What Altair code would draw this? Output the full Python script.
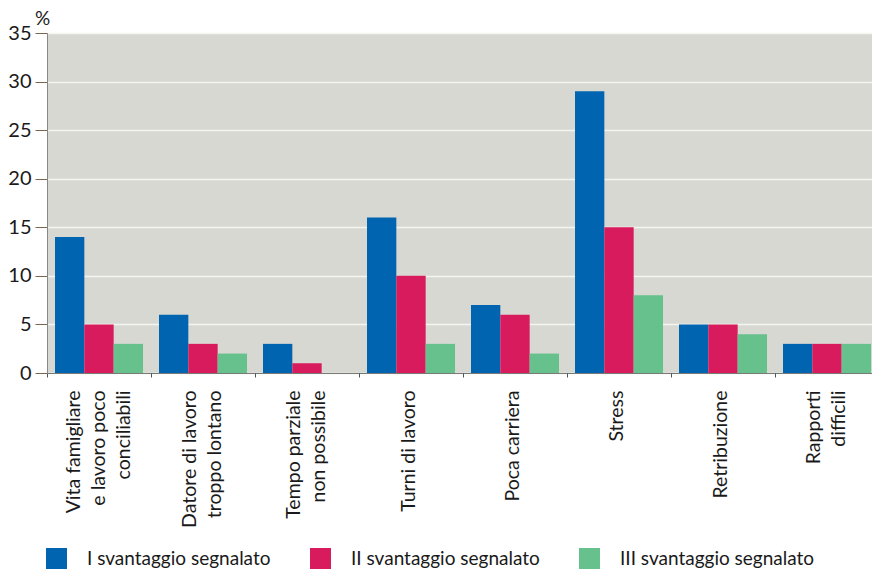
import altair as alt
import pandas as pd

# Reasons for leaving (percent of mentions), grouped by rank of the disadvantage
categories = [
    "Vita famigliare\ne lavoro poco\nconciliabili",
    "Datore di lavoro\ntroppo lontano",
    "Tempo parziale\nnon possibile",
    "Turni di lavoro",
    "Poca carriera",
    "Stress",
    "Retribuzione",
    "Rapporti\ndifficili",
]
series = ["I svantaggio segnalato", "II svantaggio segnalato", "III svantaggio segnalato"]
first = [14, 6, 3, 16, 7, 29, 5, 3]
second = [5, 3, 1, 10, 6, 15, 5, 3]
third = [3, 2, 0, 3, 2, 8, 4, 3]
colors = ["#0064B0", "#D81B5C", "#66C18C"]
y_ticks = [0, 5, 10, 15, 20, 25, 30, 35]

rows = []
for s, vals in zip(series, [first, second, third]):
    for c, v in zip(categories, vals):
        rows.append({"motivo": c, "serie": s, "valore": v})
df = pd.DataFrame(rows)

FONT = "Lato"
TEXT = "#1a1a1a"
LINE_H = 25

# shift multi-line labels so the block of lines is centred on its group
n_lines = "length(split(datum.label, '\\n'))"
label_offset = {
    "condition": [
        {"test": f"{n_lines} == 3", "value": -26},
        {"test": f"{n_lines} == 2", "value": -14},
    ],
    "value": -3,
}

chart = (
    alt.Chart(df)
    .mark_bar()
    .encode(
        x=alt.X(
            "motivo:N",
            sort=categories,
            scale=alt.Scale(paddingInner=0, paddingOuter=0),
            axis=alt.Axis(
                title=None,
                labelAngle=-90,
                labelAlign="right",
                labelBaseline="middle",
                labelExpr="split(datum.label, '\\n')",
                labelLineHeight=LINE_H,
                labelOffset=label_offset,
                labelPadding=13,
                labelFontSize=19.5,
                labelColor=TEXT,
                labelLimit=0,
                tickBand="extent",
                tickSize=4,
                tickColor="#555555",
                domainColor="#444444",
                domainOpacity=0.7,
            ),
        ),
        xOffset=alt.XOffset(
            "serie:N",
            sort=series,
            scale=alt.Scale(paddingInner=0, paddingOuter=0.273),
        ),
        y=alt.Y(
            "valore:Q",
            scale=alt.Scale(domain=[0, 35], nice=False),
            axis=alt.Axis(
                values=y_ticks,
                title="%",
                titleAngle=0,
                titleX=-5,
                titleY=-9,
                titleAlign="center",
                titleBaseline="alphabetic",
                titleFontSize=19,
                titleFontWeight="normal",
                titleColor=TEXT,
                labelFontSize=20,
                labelColor=TEXT,
                labelPadding=4,
                tickSize=12,
                tickColor="#7a6650",
                domainColor="#888888",
                gridColor="#f4f4f0",
                gridWidth=1.5,
            ),
        ),
        color=alt.Color(
            "serie:N",
            sort=series,
            scale=alt.Scale(domain=series, range=colors),
            legend=alt.Legend(
                title=None,
                orient="none",
                legendX=-1,
                legendY=515,
                direction="horizontal",
                symbolType="square",
                symbolSize=441,
                symbolStrokeWidth=0,
                symbolOpacity=1,
                labelFontSize=19,
                labelColor=TEXT,
                labelOffset=20,
                columnPadding=39,
                labelLimit=0,
            ),
        ),
    )
    .properties(width=832, height=340)
    .configure(
        font=FONT,
        autosize=alt.AutoSizeParams(type="none"),
        padding={"left": 47, "top": 33, "right": -7, "bottom": 200},
    )
    .configure_view(fill="#D8D8D2", stroke=None)
)

chart.save("out.html", embed_options={"renderer": "svg", "actions": False})
